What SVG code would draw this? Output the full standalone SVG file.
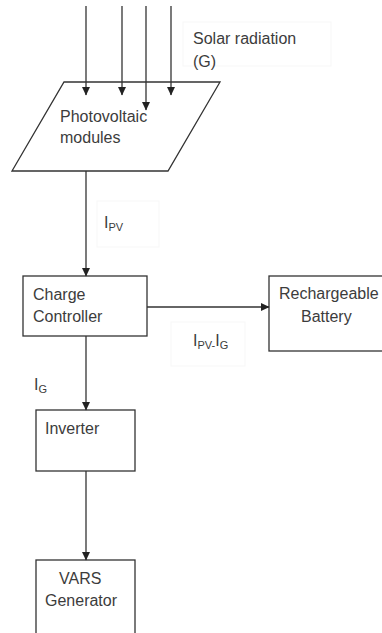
<svg xmlns="http://www.w3.org/2000/svg" width="382" height="633" viewBox="0 0 382 633">
<defs>
<marker id="ah" markerWidth="9" markerHeight="9" refX="8" refY="4.5" orient="auto" markerUnits="userSpaceOnUse">
<path d="M0,0.5 L8.5,4.5 L0,8.5 Z" fill="#222"/>
</marker>
</defs>
<style>
.t{font-family:"Liberation Sans",Arial,sans-serif;font-size:16px;fill:#3c3c3c}
.s{font-size:11px}
.b{fill:#fff;stroke:#333;stroke-width:1.3}
.c{stroke:#333;stroke-width:1.3;fill:none;marker-end:url(#ah)}
.f{fill:none;stroke:#f7f7f7;stroke-width:1}
</style>
<rect width="382" height="633" fill="#fff"/>
<g id="pv">
<polygon class="b" points="64,82 220,82 168,171 12,171"/>
<text class="t" x="60" y="122">Photovoltaic</text>
<text class="t" x="60" y="143">modules</text>
</g>
<g id="solar-label">
<rect class="f" x="183" y="22" width="148" height="44"/>
<text class="t" x="193" y="44">Solar radiation</text>
<text class="t" x="193" y="67">(G)</text>
</g>
<g id="charge-controller">
<rect class="b" x="23" y="276" width="124" height="60"/>
<text class="t" x="33" y="300">Charge</text>
<text class="t" x="33" y="322">Controller</text>
</g>
<g id="battery">
<rect class="b" x="269" y="276" width="130" height="75"/>
<text class="t" x="279" y="299">Rechargeable</text>
<text class="t" x="301" y="322">Battery</text>
</g>
<g id="inverter">
<rect class="b" x="36" y="410" width="99" height="61"/>
<text class="t" x="45" y="434">Inverter</text>
</g>
<g id="vars-generator">
<rect class="b" x="36" y="560" width="99" height="90"/>
<text class="t" x="59" y="584">VARS</text>
<text class="t" x="45" y="606">Generator</text>
</g>
<g id="connectors">
<line class="c" x1="86" y1="6" x2="86" y2="95"/>
<line class="c" x1="122" y1="6" x2="122" y2="95"/>
<line class="c" x1="146" y1="6" x2="146" y2="110"/>
<line class="c" x1="171" y1="6" x2="171" y2="95"/>
<line class="c" x1="86" y1="171" x2="86" y2="276"/>
<line class="c" x1="147" y1="307" x2="269" y2="307"/>
<line class="c" x1="86" y1="336" x2="86" y2="410"/>
<line class="c" x1="86" y1="471" x2="86" y2="560"/>
</g>
<g id="labels">
<rect class="f" x="97" y="201" width="62" height="46"/>
<text class="t" x="104" y="228">I<tspan class="s" dy="3">PV</tspan></text>
<rect class="f" x="171" y="322" width="74" height="44"/>
<text class="t" x="193" y="346">I<tspan class="s" dy="3">PV-</tspan><tspan dy="-3">I</tspan><tspan class="s" dy="3">G</tspan></text>
<text class="t" x="34" y="390">I<tspan class="s" dy="3">G</tspan></text>
</g>
</svg>
